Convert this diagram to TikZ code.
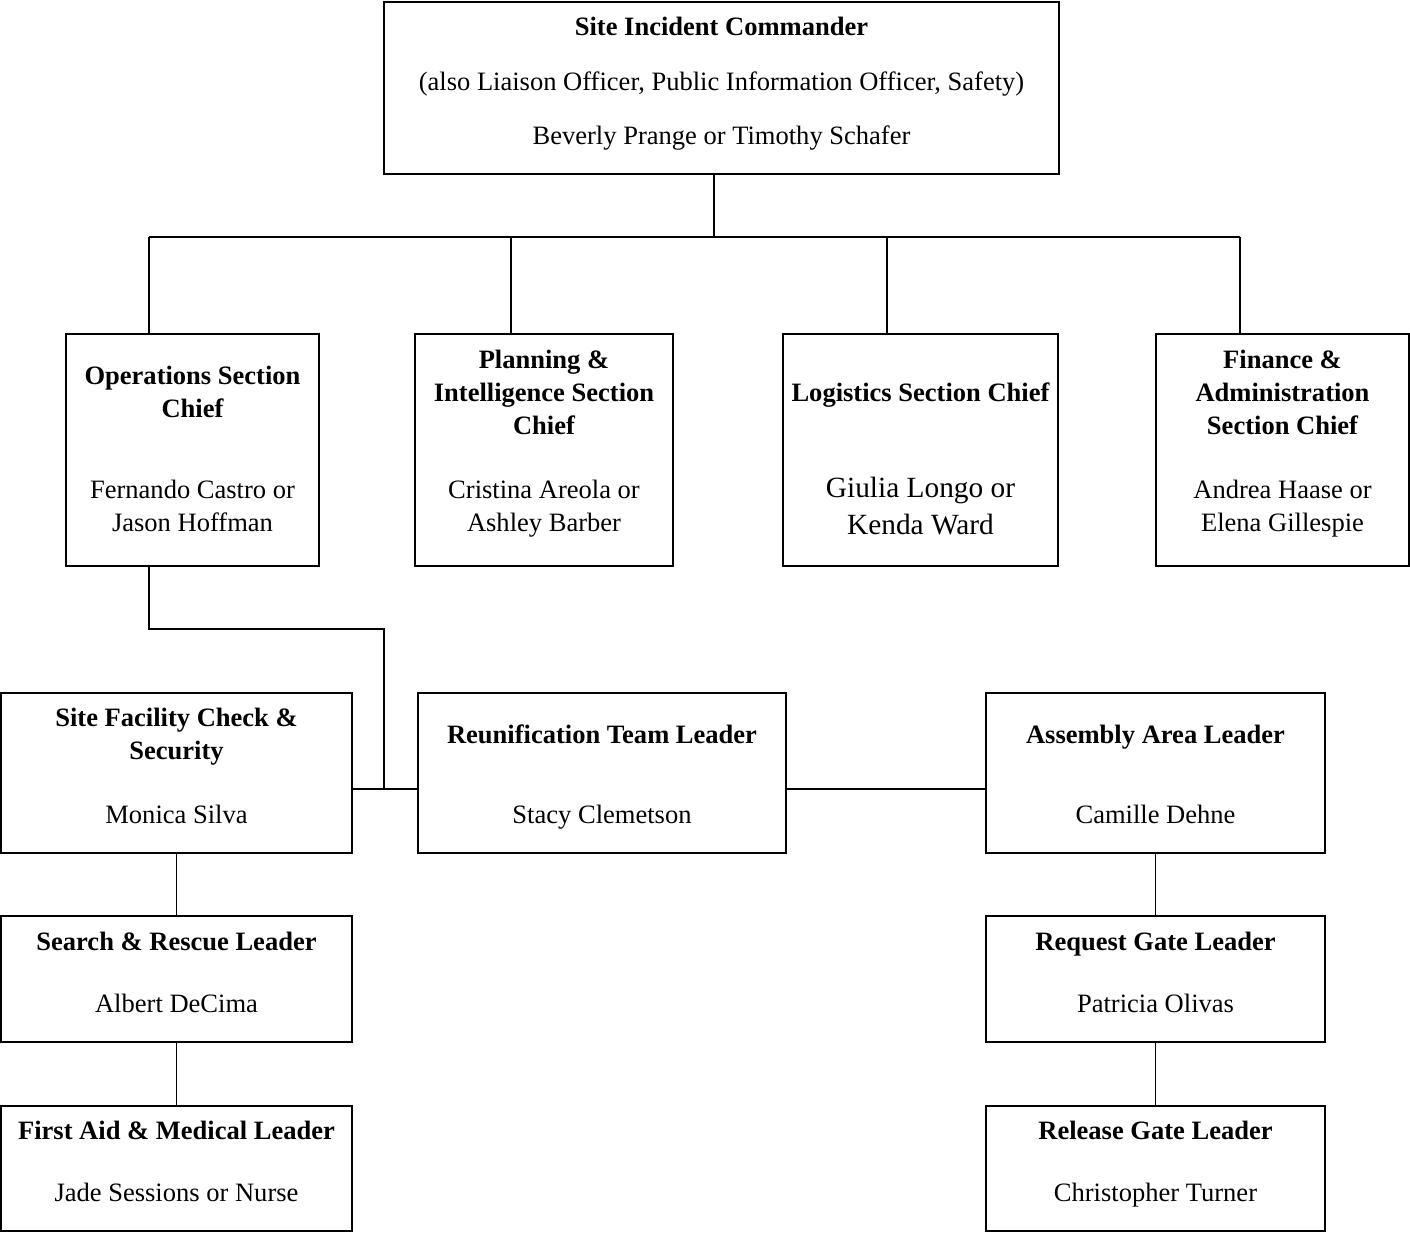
\documentclass[tikz,border=0pt]{standalone}
\usepackage{fontspec}
\setmainfont{Liberation Serif}
\usetikzlibrary{fit}

\begin{document}
\begin{tikzpicture}[x=0.02cm,y=-0.02cm,line width=0.8pt,
  every node/.style={anchor=base},
  box/.style={draw,inner sep=0pt,anchor=center},
  roletxt/.style={font=\fontsize{15.1}{18}\selectfont\bfseries},
  persontxt/.style={font=\fontsize{15.1}{18}\selectfont},
  bigperson/.style={font=\fontsize{16.7}{20}\selectfont}]
  \useasboundingbox (0,0) rectangle (1410,1235);
  % boxes
  \foreach \nm/\xa/\ya/\xb/\yb in {sic/384/2/1059/174,
    ops/66/334/319/566, plan/415/334/673/566, logi/783/334/1058/566, fin/1156/334/1409/566,
    site/1/693/352/853, reun/418/693/786/853, asm/986/693/1325/853,
    sar/1/916/352/1042, req/986/916/1325/1042,
    aid/1/1106/352/1231, rel/986/1106/1325/1231}
    \node[box,fit={(\xa,\ya) (\xb,\yb)}] (\nm) {};
  % connectors
  \coordinate (bus) at (714,237);
  \coordinate (busl) at (149,237);
  \coordinate (busr) at (1240,237);
  \draw (bus |- sic.south) -- (bus);
  \draw (busl) -- (busr);
  \foreach \xx/\nm in {149/ops,511/plan,887/logi,1240/fin} {
    \coordinate (d\nm) at (\xx,237);
    \draw (d\nm) -- (d\nm |- \nm.north);
  }
  \coordinate (ka) at (149,629);
  \coordinate (kb) at (384,629);
  \coordinate (kc) at (384,789);
  \draw (ka |- ops.south) -- (ka) -- (kb) -- (kc);
  \draw (kc -| site.east) -- (kc -| reun.west);
  \draw (kc -| reun.east) -- (kc -| asm.west);
  \draw (site.south) -- (sar.north);
  \draw (sar.south) -- (aid.north);
  \draw (asm.south) -- (req.north);
  \draw (req.south) -- (rel.north);
  % titles
  \foreach[count=\i] \xx/\yy/\txt in {721.5/35/Site Incident Commander,
    192.5/384/Operations Section, 192.5/417/Chief,
    544/368/Planning \&, 544/401/Intelligence Section, 544/434/Chief,
    920.5/401/Logistics Section Chief,
    1282.5/368/Finance \&, 1282.5/401/Administration, 1282.5/434/Section Chief,
    176.5/726/Site Facility Check \&, 176.5/759/Security,
    602/743/Reunification Team Leader, 1155.5/743/Assembly Area Leader,
    176.5/950/Search \& Rescue Leader, 1155.5/950/Request Gate Leader,
    176.5/1139/First Aid \& Medical Leader, 1155.5/1139/Release Gate Leader}
    \node[roletxt] (h\i) at (\xx,\yy) {\txt};
  % names
  \foreach[count=\i] \xx/\yy/\txt in {721.5/90/{(also Liaison Officer, Public Information Officer, Safety)},
    721.5/144/Beverly Prange or Timothy Schafer,
    192.5/498/Fernando Castro or, 192.5/531/Jason Hoffman,
    544/498/Cristina Areola or, 544/531/Ashley Barber,
    1282.5/498/Andrea Haase or, 1282.5/531/Elena Gillespie,
    176.5/823/Monica Silva, 602/823/Stacy Clemetson, 1155.5/823/Camille Dehne,
    176.5/1012/Albert DeCima, 1155.5/1012/Patricia Olivas,
    176.5/1201/Jade Sessions or Nurse, 1155.5/1201/Christopher Turner}
    \node[persontxt] (n\i) at (\xx,\yy) {\txt};
  \foreach[count=\i] \yy/\txt in {497/Giulia Longo or, 534/Kenda Ward}
    \node[bigperson] (g\i) at (920.5,\yy) {\txt};
\end{tikzpicture}
\end{document}
